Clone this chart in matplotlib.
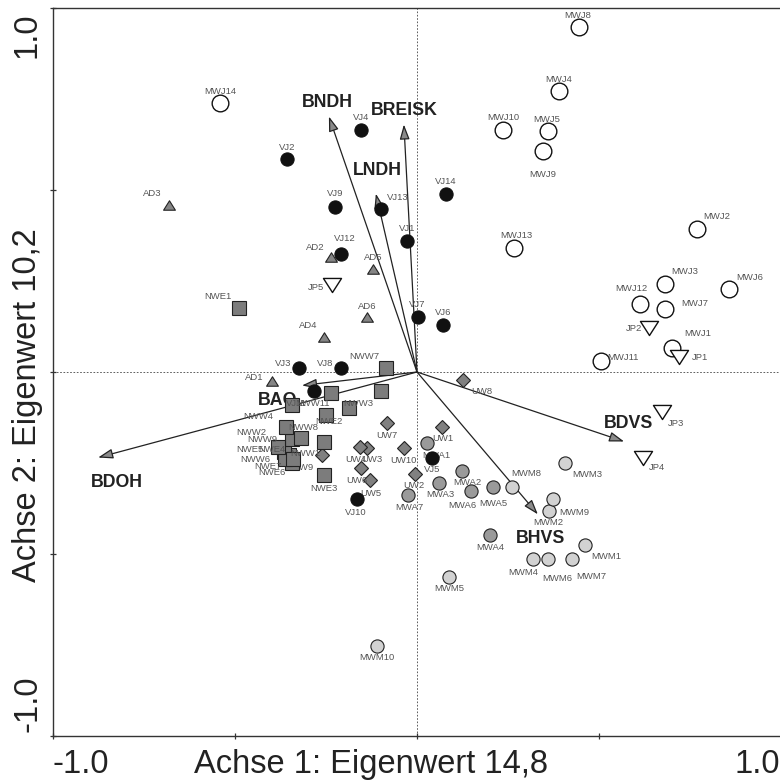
import matplotlib
matplotlib.use('Agg')
import matplotlib.pyplot as plt
from matplotlib.markers import MarkerStyle
from matplotlib.path import Path

plt.rcParams['font.family'] = ['Liberation Sans', 'DejaVu Sans']

# ---------------- data (ordination scores) ----------------
mwj_names = ['MWJ1', 'MWJ2', 'MWJ3', 'MWJ4', 'MWJ5', 'MWJ6', 'MWJ7', 'MWJ8', 'MWJ9',
             'MWJ10', 'MWJ11', 'MWJ12', 'MWJ13', 'MWJ14']
mwj_x = [0.701, 0.769, 0.681, 0.390, 0.360, 0.857, 0.681, 0.445, 0.346, 0.236, 0.505, 0.613, 0.266, -0.541]
mwj_y = [0.067, 0.394, 0.243, 0.771, 0.661, 0.227, 0.174, 0.949, 0.606, 0.666, 0.029, 0.188, 0.342, 0.738]

vj_names = ['VJ1', 'VJ2', 'VJ3', 'VJ4', 'VJ5', 'VJ6', 'VJ7', 'VJ8', 'VJ9', 'VJ10', 'VJ11',
            'VJ12', 'VJ13', 'VJ14']
vj_x = [-0.027, -0.357, -0.324, -0.154, 0.041, 0.071, 0.003, -0.209, -0.225, -0.165, -0.283, -0.209, -0.099, 0.080]
vj_y = [0.361, 0.584, 0.012, 0.666, -0.235, 0.130, 0.150, 0.012, 0.452, -0.350, -0.051, 0.323, 0.449, 0.490]

ad_names = ['AD1', 'AD2', 'AD3', 'AD4', 'AD5', 'AD6']
ad_x = [-0.398, -0.236, -0.681, -0.255, -0.121, -0.137]
ad_y = [-0.026, 0.317, 0.460, 0.095, 0.282, 0.150]

jp_names = ['JP1', 'JP2', 'JP3', 'JP4', 'JP5']
jp_x = [0.720, 0.637, 0.673, 0.621, -0.234]
jp_y = [0.040, 0.120, -0.111, -0.235, 0.238]

nw_names = ['NWE1', 'NWE2', 'NWE3', 'NWE4', 'NWE5', 'NWE6', 'NWE7',
            'NWW1', 'NWW2', 'NWW3', 'NWW4', 'NWW5', 'NWW6', 'NWW7', 'NWW8', 'NWW9', 'NWW10', 'NWW11']
nw_x = [-0.489, -0.250, -0.255, -0.352, -0.365, -0.343, -0.363,
        -0.255, -0.343, -0.187, -0.360, -0.099, -0.341, -0.085, -0.319, -0.382, -0.343, -0.236]
nw_y = [0.177, -0.117, -0.284, -0.229, -0.221, -0.249, -0.240,
        -0.191, -0.183, -0.100, -0.150, -0.051, -0.238, 0.010, -0.180, -0.207, -0.092, -0.059]

uw_names = ['UW1', 'UW2', 'UW3', 'UW4', 'UW5', 'UW6', 'UW7', 'UW8', 'UW9', 'UW10']
uw_x = [0.069, -0.005, -0.137, -0.157, -0.129, -0.154, -0.082, 0.126, -0.261, -0.036]
uw_y = [-0.150, -0.279, -0.210, -0.205, -0.298, -0.265, -0.141, -0.021, -0.229, -0.210]

mwa_names = ['MWA1', 'MWA2', 'MWA3', 'MWA4', 'MWA5', 'MWA6', 'MWA7']
mwa_x = [0.027, 0.124, 0.060, 0.201, 0.209, 0.148, -0.025]
mwa_y = [-0.196, -0.271, -0.304, -0.449, -0.317, -0.328, -0.339]

mwm_names = ['MWM1', 'MWM2', 'MWM3', 'MWM4', 'MWM5', 'MWM6', 'MWM7', 'MWM8', 'MWM9', 'MWM10']
mwm_x = [0.462, 0.363, 0.407, 0.319, 0.088, 0.360, 0.426, 0.261, 0.374, -0.110]
mwm_y = [-0.474, -0.383, -0.249, -0.515, -0.562, -0.515, -0.515, -0.315, -0.350, -0.754]

env_names = ['BNDH', 'BREISK', 'LNDH', 'BAO', 'BDOH', 'BDVS', 'BHVS']
env_x = [-0.242, -0.036, -0.113, -0.316, -0.876, 0.569, 0.332]
env_y = [0.702, 0.680, 0.490, -0.037, -0.235, -0.191, -0.391]

x_title = 'Achse 1: Eigenwert 14,8'
y_title = 'Achse 2: Eigenwert 10,2'

# ---------------- label placement (pixel offsets: right, down) ----------------
label_off = {
    'MWJ1': (26, -14), 'MWJ2': (20, -12), 'MWJ3': (20, -12), 'MWJ4': (0, -12), 'MWJ5': (-1, -12),
    'MWJ6': (21, -12), 'MWJ7': (30, -5), 'MWJ8': (-1, -11), 'MWJ9': (0, 23), 'MWJ10': (0, -12),
    'MWJ11': (22, -4), 'MWJ12': (-9, -15), 'MWJ13': (2, -12), 'MWJ14': (0, -12),
    'VJ1': (0, -12), 'VJ2': (0, -12), 'VJ3': (-16, -4), 'VJ4': (0, -12), 'VJ5': (0, 12),
    'VJ6': (0, -12), 'VJ7': (-1, -13), 'VJ8': (-16, -4), 'VJ9': (0, -14), 'VJ10': (-1, 13),
    'VJ11': (-18, 13), 'VJ12': (4, -16), 'VJ13': (17, -11), 'VJ14': (0, -12),
    'AD1': (-18, -4), 'AD2': (-16, -9), 'AD3': (-17, -11), 'AD4': (-16, -12), 'AD5': (0, -12), 'AD6': (0, -11),
    'JP1': (21, 0), 'JP2': (-15, 0), 'JP3': (14, 11), 'JP4': (14, 10), 'JP5': (-16, 2),
    'NWE1': (-21, -11), 'NWE2': (3, 7), 'NWE3': (0, 13), 'NWE4': (-17, -6), 'NWE5': (-34, -3),
    'NWE6': (-20, 10), 'NWE7': (-17, 7), 'NWW1': (-19, 12), 'NWW2': (-41, -6), 'NWW3': (9, -5),
    'NWW4': (-28, -10), 'NWW6': (-38, 1), 'NWW7': (-22, -12), 'NWW8': (2, -10), 'NWW9': (-16, -8),
    'NWW11': (-19, 10),
    'UW1': (1, 12), 'UW2': (-1, 12), 'UW3': (5, 11), 'UW4': (-4, 13), 'UW5': (1, 13), 'UW6': (-4, 12),
    'UW7': (0, 12), 'UW8': (19, 12), 'UW9': (-19, 12), 'UW10': (0, 12),
    'MWA1': (9, 12), 'MWA2': (5, 12), 'MWA3': (1, 12), 'MWA4': (0, 12), 'MWA5': (0, 16),
    'MWA6': (-9, 14), 'MWA7': (1, 12),
    'MWM1': (21, 12), 'MWM2': (-1, 11), 'MWM3': (22, 12), 'MWM4': (-10, 13), 'MWM5': (0, 12),
    'MWM6': (9, 19), 'MWM7': (19, 17), 'MWM8': (14, -13), 'MWM9': (21, 13), 'MWM10': (0, 11),
}
env_off = {'BNDH': (-2, -14), 'BREISK': (0, -14), 'LNDH': (2, -23), 'BAO': (-24, 15),
           'BDOH': (19, 25), 'BDVS': (4, -18), 'BHVS': (3, 24)}

W, H = 780, 781
fig = plt.figure(figsize=(W / 100, H / 100), dpi=100)
ax = fig.add_axes([53 / W, 1 - 736 / H, 728 / W, 728 / H])
ax.set_xlim(-1, 1)
ax.set_ylim(-1, 1)

for s in ['left', 'bottom', 'top']:
    ax.spines[s].set_linewidth(1.0)
    ax.spines[s].set_color('#333333')
ax.spines['right'].set_visible(False)
ax.set_xticks([-1, -0.5, 0, 0.5, 1])
ax.set_yticks([-1, -0.5, 0, 0.5, 1])
ax.tick_params(direction='inout', length=5, width=0.9, color='#333333',
               labelbottom=False, labelleft=False)

ax.axhline(0, color='#444444', lw=0.6, ls=(0, (2, 2)), zorder=1)
ax.axvline(0, color='#444444', lw=0.6, ls=(0, (2, 2)), zorder=1)

# environmental vectors
for n, ex, ey in zip(env_names, env_x, env_y):
    ax.annotate('', xy=(ex, ey), xytext=(0, 0),
                arrowprops=dict(arrowstyle='-|>,head_length=0.45,head_width=0.15',
                                mutation_scale=20, lw=0.9, color='#222222',
                                fc='#8a8a8a', ec='#222222', shrinkA=0, shrinkB=0),
                zorder=2)
    dx, dy = env_off[n]
    ax.annotate(n, xy=(ex, ey), xytext=(dx, -dy), textcoords='offset pixels',
                ha='center', va='center', fontsize=12.8, fontweight='bold',
                color='#222222', zorder=3)

tri_up = MarkerStyle(Path([(-1, -0.8), (1, -0.8), (0, 0.8), (-1, -0.8)],
                          [Path.MOVETO, Path.LINETO, Path.LINETO, Path.CLOSEPOLY]))
tri_dn = MarkerStyle(Path([(-1, 0.78), (1, 0.78), (0, -0.78), (-1, 0.78)],
                          [Path.MOVETO, Path.LINETO, Path.LINETO, Path.CLOSEPOLY]))

groups = [
    (mwj_names, mwj_x, mwj_y, dict(marker='o', ms=12, mfc='white', mec='#111111', mew=1.0)),
    (jp_names, jp_x, jp_y, dict(marker=tri_dn, ms=13, mfc='white', mec='#111111', mew=1.0)),
    (ad_names, ad_x, ad_y, dict(marker=tri_up, ms=8.5, mfc='#858585', mec='#222222', mew=0.8)),
    (mwm_names, mwm_x, mwm_y, dict(marker='o', ms=9.5, mfc='#d2d2d2', mec='#222222', mew=0.8)),
    (mwa_names, mwa_x, mwa_y, dict(marker='o', ms=9.5, mfc='#9a9a9a', mec='#222222', mew=0.8)),
    (uw_names, uw_x, uw_y, dict(marker='D', ms=7, mfc='#808080', mec='#222222', mew=0.8)),
    (nw_names, nw_x, nw_y, dict(marker='s', ms=9.7, mfc='#7c7c7c', mec='#222222', mew=0.8)),
    (vj_names, vj_x, vj_y, dict(marker='o', ms=9.5, mfc='#111111', mec='#111111', mew=0.8)),
]

z = 5
for names, xs, ys, style in groups:
    ax.plot(xs, ys, linestyle='none', zorder=z, **style)
    for n, px, py in zip(names, xs, ys):
        if n not in label_off:
            continue
        dx, dy = label_off[n]
        ax.annotate(n, xy=(px, py), xytext=(dx, -dy), textcoords='offset pixels',
                    ha='center', va='center', fontsize=6.8, color='#555555', zorder=z + 0.5)
    z += 1

# axis end labels and titles
fs = 23.5
tc = '#222222'
fig.text(53 / W, 1 - 773 / H, '-1.0', ha='left', va='baseline', fontsize=fs, color=tc)
fig.text(780 / W, 1 - 773 / H, '1.0', ha='right', va='baseline', fontsize=fs, color=tc)
fig.text(371 / W, 1 - 773 / H, x_title, ha='center', va='baseline', fontsize=fs, color=tc)
fig.text(36 / W, 1 - 13 / H, '1.0', rotation=90, rotation_mode='anchor',
         ha='right', va='baseline', fontsize=fs, color=tc)
fig.text(36 / W, 1 - 732 / H, '-1.0', rotation=90, rotation_mode='anchor',
         ha='left', va='baseline', fontsize=fs, color=tc)
fig.text(36 / W, 1 - 405 / H, y_title, rotation=90, rotation_mode='anchor',
         ha='center', va='baseline', fontsize=fs, color=tc)

fig.savefig('out.png', dpi=100)
